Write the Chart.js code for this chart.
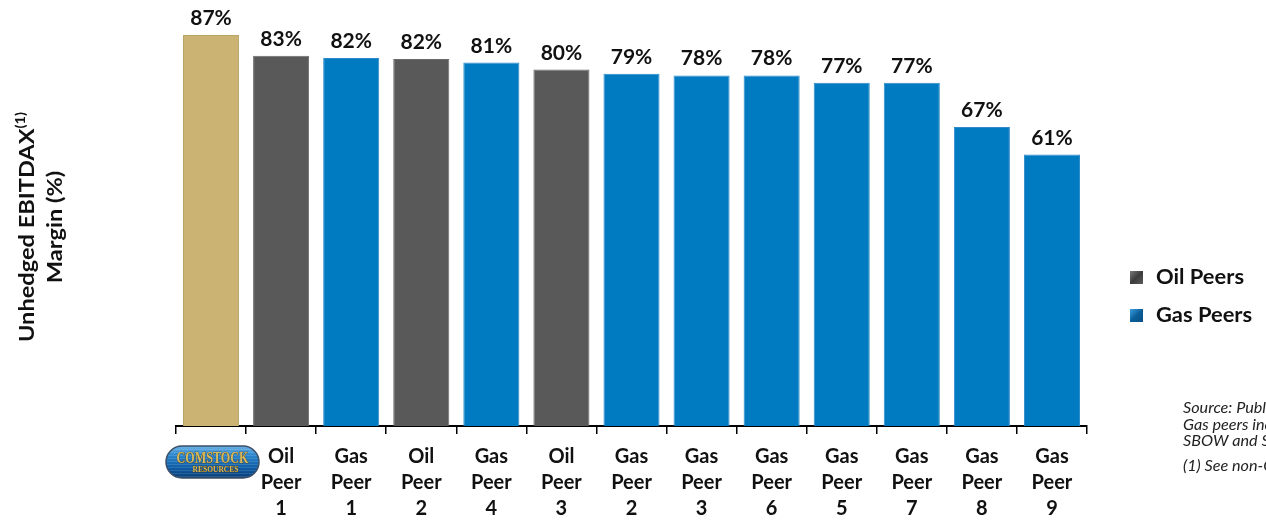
<!DOCTYPE html>
<html><head><meta charset="utf-8">
<script src="https://cdn.jsdelivr.net/npm/chart.js@4"></script>
<style>html,body{margin:0;padding:0;background:#fff;overflow:hidden}#wrap{position:relative;width:1266px;height:520px}canvas{display:block}</style>
</head><body><div id="wrap"><canvas id="c" width="1266" height="520"></canvas></div>
<script>
// ---- data ----
const categories = ['Comstock','Oil Peer 1','Gas Peer 1','Oil Peer 2','Gas Peer 4','Oil Peer 3','Gas Peer 2','Gas Peer 3','Gas Peer 6','Gas Peer 5','Gas Peer 7','Gas Peer 8','Gas Peer 9'];
const groups = ['Comstock','Oil','Gas','Oil','Gas','Oil','Gas','Gas','Gas','Gas','Gas','Gas','Gas'];
const margins = [87.0, 82.5, 82.0, 81.8, 81.0, 79.5, 78.6, 78.2, 78.2, 76.6, 76.6, 67.0, 61.0];
const marginLabels = ['87%','83%','82%','82%','81%','80%','79%','78%','78%','77%','77%','67%','61%'];
const legendItems = ['Oil Peers','Gas Peers'];
const legendGroups = ['Oil','Gas'];
const yTitleMain = 'Unhedged EBITDAX';
const yTitleSup = '(1)';
const yTitleLine2 = 'Margin (%)';
const notes = ['Source: Public company filings.','Gas peers include AR, CHK, COG, EQT, GPOR, RRC,','SBOW and SWN.','(1) See non-GAAP reconciliation.'];
const logoWords = ['COMSTOCK','RESOURCES'];

// ---- styles ----
const fillColors = {Comstock:'#CBB374', Oil:'#595959', Gas:'#007AC0'};
const edgeColors = {Comstock:'#B9A466', Oil:'#6a6a6a', Gas:'#2E8ACB'};
const FONT = 'Lato, "Open Sans", sans-serif';

const valueLabelPlugin = {
  id:'valueLabels',
  afterDatasetsDraw(chart){
    const ctx = chart.ctx;
    const meta = chart.getDatasetMeta(0);
    ctx.save();
    ctx.fillStyle = '#111';
    ctx.font = 'bold 21px ' + FONT;
    ctx.textAlign = 'center';
    ctx.textBaseline = 'alphabetic';
    meta.data.forEach((bar, i) => {
      ctx.fillText(marginLabels[i], bar.x, bar.y - 10);
    });
    ctx.restore();
  }
};

const decorPlugin = {
  id:'decor',
  afterDraw(chart){
    const ctx = chart.ctx;
    ctx.save();
    // y-axis title (stretched along its direction to match the wide source face)
    ctx.fillStyle = '#111';
    ctx.textBaseline = 'middle';
    ctx.font = 'bold 21px ' + FONT;
    const wMain = ctx.measureText(yTitleMain).width;
    ctx.font = 'bold 13px ' + FONT;
    const wSup = ctx.measureText(yTitleSup).width;
    const total = wMain + wSup;
    const sY = 230 / total;
    const yc = 227;
    ctx.save();
    ctx.translate(27, yc);
    ctx.rotate(-Math.PI / 2);
    ctx.scale(sY, 1);
    ctx.textAlign = 'left';
    ctx.font = 'bold 21px ' + FONT;
    ctx.fillText(yTitleMain, -total / 2, 0);
    ctx.font = 'bold 13px ' + FONT;
    ctx.fillText(yTitleSup, -total / 2 + wMain, -6);
    ctx.restore();
    ctx.save();
    ctx.translate(55, yc);
    ctx.rotate(-Math.PI / 2);
    ctx.scale(sY, 1);
    ctx.textAlign = 'center';
    ctx.font = 'bold 21px ' + FONT;
    ctx.fillText(yTitleLine2, 0, 0);
    ctx.restore();

    // legend
    const lx = 1130, ly = [271, 309];
    ctx.font = 'bold 21px ' + FONT;
    const sL = 88 / ctx.measureText(legendItems[0]).width;
    legendItems.forEach((txt, i) => {
      const g = legendGroups[i];
      const y = ly[i];
      const grad = ctx.createLinearGradient(lx, y, lx + 13, y + 13);
      if (g === 'Oil') { grad.addColorStop(0, '#7a7a7a'); grad.addColorStop(0.5, '#3c3c3c'); grad.addColorStop(1, '#5a5a5a'); }
      else { grad.addColorStop(0, '#3aa0e0'); grad.addColorStop(0.5, '#0b5f9a'); grad.addColorStop(1, '#0a4f85'); }
      ctx.fillStyle = grad;
      ctx.fillRect(lx, y, 13, 13);
      ctx.fillStyle = '#111';
      ctx.font = 'bold 21px ' + FONT;
      ctx.textAlign = 'left';
      ctx.textBaseline = 'alphabetic';
      ctx.save();
      ctx.translate(1156, y + 13);
      ctx.scale(sL, 1);
      ctx.fillText(txt, 0, 0);
      ctx.restore();
    });

    // notes
    ctx.font = 'italic 15px ' + FONT;
    ctx.fillStyle = '#222';
    ctx.textAlign = 'left';
    const sN = 83 / ctx.measureText('Source: Publ').width;
    const nb = [413, 430, 446, 471];
    notes.forEach((t, i) => {
      ctx.save();
      ctx.translate(1183, nb[i]);
      ctx.scale(sN, 1);
      ctx.fillText(t, 0, 0);
      ctx.restore();
    });

    // logo in first category slot
    const x0 = 166, y0 = 446, w = 93, h = 32, r = 16;
    const pill = () => {
      ctx.beginPath();
      ctx.moveTo(x0 + r, y0);
      ctx.lineTo(x0 + w - r, y0);
      ctx.arc(x0 + w - r, y0 + r, r, -Math.PI / 2, Math.PI / 2);
      ctx.lineTo(x0 + r, y0 + h);
      ctx.arc(x0 + r, y0 + r, r, Math.PI / 2, Math.PI * 1.5);
      ctx.closePath();
    };
    const lg = ctx.createLinearGradient(0, y0, 0, y0 + h);
    lg.addColorStop(0, '#6ab2e6');
    lg.addColorStop(0.3, '#2a84cc');
    lg.addColorStop(0.7, '#0d5aa3');
    lg.addColorStop(1, '#0a3f78');
    pill();
    ctx.fillStyle = lg;
    ctx.fill();
    ctx.save();
    pill(); ctx.clip();
    ctx.strokeStyle = 'rgba(255,255,255,0.12)';
    ctx.lineWidth = 1;
    for (let yy = y0 + 3; yy < y0 + h; yy += 3) { ctx.beginPath(); ctx.moveTo(x0, yy + 0.5); ctx.lineTo(x0 + w, yy + 0.5); ctx.stroke(); }
    ctx.restore();
    pill();
    ctx.strokeStyle = '#3d4f66';
    ctx.lineWidth = 1.5;
    ctx.stroke();
    ctx.fillStyle = '#D8B85A';
    ctx.strokeStyle = '#4a370c';
    ctx.lineWidth = 0.7;
    ctx.textAlign = 'center';
    ctx.textBaseline = 'alphabetic';
    ctx.font = 'bold 17px "Liberation Serif", serif';
    let mw = ctx.measureText(logoWords[0]).width;
    ctx.save();
    ctx.translate(x0 + w / 2, y0 + 17);
    ctx.scale(72 / mw, 1);
    ctx.strokeText(logoWords[0], 0, 0);
    ctx.fillText(logoWords[0], 0, 0);
    ctx.restore();
    ctx.font = 'bold 9px "Liberation Serif", serif';
    mw = ctx.measureText(logoWords[1]).width;
    ctx.save();
    ctx.translate(x0 + w / 2 + 3, y0 + 26);
    ctx.scale(46 / mw, 1);
    ctx.strokeText(logoWords[1], 0, 0);
    ctx.fillText(logoWords[1], 0, 0);
    ctx.restore();
    ctx.restore();
  }
};

new Chart(document.getElementById('c'), {
  type: 'bar',
  data: {
    labels: categories,
    datasets: [{
      data: margins,
      backgroundColor: groups.map(g => fillColors[g]),
      borderColor: groups.map(g => edgeColors[g]),
      borderWidth: 1,
      categoryPercentage: 0.8,
      barPercentage: 1.0
    }]
  },
  options: {
    responsive: false,
    animation: false,
    devicePixelRatio: 1,
    layout: { padding: { left: 176, right: 179, top: 12, bottom: 0 } },
    plugins: { legend: { display: false }, tooltip: { enabled: false } },
    scales: {
      x: {
        offset: true,
        grid: { display: true, drawOnChartArea: false, drawTicks: true, tickLength: 8, color: '#000', lineWidth: 1.5, offset: true },
        border: { display: true, color: '#000', width: 2 },
        ticks: {
          color: '#111',
          font: { family: FONT, weight: 'bold', size: 20, lineHeight: 1.3 },
          padding: 10, maxRotation: 0, minRotation: 0, autoSkip: false,
          callback: (v, i) => i === 0 ? '' : categories[i].split(' ')
        },
        afterFit: (s) => { s.height = 94; }
      },
      y: { display: false, min: 2, max: 92 }
    }
  },
  plugins: [valueLabelPlugin, decorPlugin]
});
</script>
</body></html>
